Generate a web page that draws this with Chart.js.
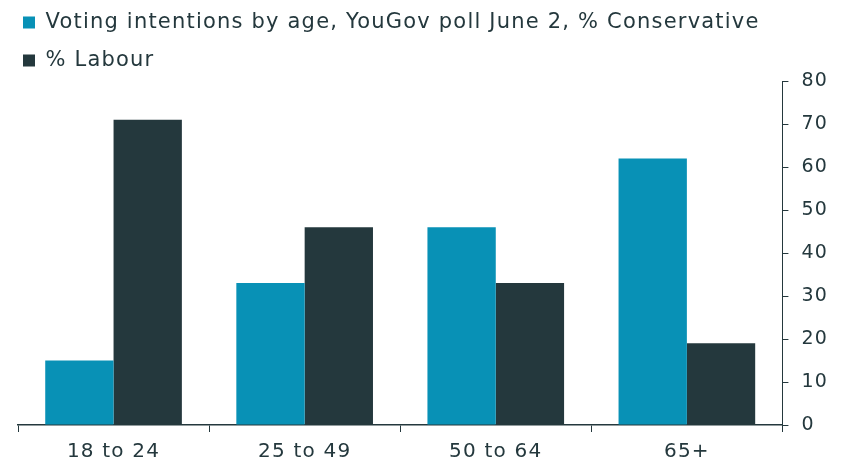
<!DOCTYPE html>
<html>
<head>
<meta charset="utf-8">
<script src="https://cdn.jsdelivr.net/npm/chart.js@4/dist/chart.umd.min.js"></script>
<style>
    html, body { margin: 0; padding: 0; background: #fff; }
    #wrap { width: 852px; height: 468px; }
</style>
</head>
<body>
<div id="wrap"><canvas id="chartVoto"></canvas></div>
<script>
    const categorias = ['18 to 24', '25 to 49', '50 to 64', '65+'];
    const conservador = [15, 33, 46, 62];
    const laborista = [71, 46, 33, 19];
    const ticksY = [0, 10, 20, 30, 40, 50, 60, 70, 80];

    const textColor = '#24383d';
    const fontFam = '"DejaVu Sans", Inter, sans-serif';

    // texto un poco más espaciado, como la tipografía del original
    const espaciado = {
        id: 'espaciado',
        beforeUpdate(chart) { chart.ctx.letterSpacing = '1.2px'; },
        beforeDraw(chart) { chart.ctx.letterSpacing = '1.2px'; }
    };

    // la leyenda usa padding grande para separar filas; le recorto alto y la corro
    const ajustarCajas = {
        id: 'ajustarCajas',
        afterInit(chart) {
            const lg = chart.legend;
            if (!lg) return;
            const fitOrig = lg.fit.bind(lg);
            lg.fit = function () { fitOrig(); this.height -= 5; };
        },
        beforeLayout(chart) {
            const sx = chart.scales.x;
            if (sx && !sx._ajustado) {
                const fitX = sx.fit.bind(sx);
                sx.fit = function () { fitX(); this.height -= 4; };
                sx._ajustado = true;
            }
        },
        afterLayout(chart) {
            const lg = chart.legend;
            if (!lg) return;
            lg.left -= 12; lg.right -= 12;
            lg.top -= 5; lg.bottom -= 5;
        }
    };

    new Chart(document.getElementById('chartVoto'), {
        type: 'bar',
        data: {
            labels: categorias,
            datasets: [
                { label: 'Voting intentions by age, YouGov poll June 2, % Conservative', data: conservador, backgroundColor: '#0891b6', categoryPercentage: 0.715, barPercentage: 1.0 },
                { label: '% Labour', data: laborista, backgroundColor: '#24383d', categoryPercentage: 0.715, barPercentage: 1.0 }
            ]
        },
        options: {
            responsive: true, maintainAspectRatio: false, animation: false,
            layout: { padding: { left: 18, right: 11, top: 0, bottom: 0 } },
            plugins: {
                legend: {
                    position: 'top', align: 'start', fullSize: false,
                    labels: { boxWidth: 12, boxHeight: 12, padding: 17, color: textColor, font: { family: fontFam, size: 21 } }
                },
                tooltip: { enabled: false }
            },
            scales: {
                x: {
                    grid: { drawOnChartArea: false, drawTicks: true, tickLength: 7, color: textColor },
                    border: { color: textColor, width: 1.5 },
                    ticks: { color: textColor, font: { family: fontFam, size: 20 }, padding: 8 }
                },
                y: {
                    position: 'right', min: 0, max: 80,
                    afterBuildTicks: (ax) => { ax.ticks = ticksY.map(v => ({ value: v })); },
                    grid: { drawOnChartArea: false, drawTicks: true, tickLength: 6, color: textColor },
                    border: { color: textColor, width: 1 },
                    ticks: { color: textColor, font: { family: fontFam, size: 19 }, padding: 13 }
                }
            }
        },
        plugins: [espaciado, ajustarCajas]
    });
</script>
</body>
</html>
